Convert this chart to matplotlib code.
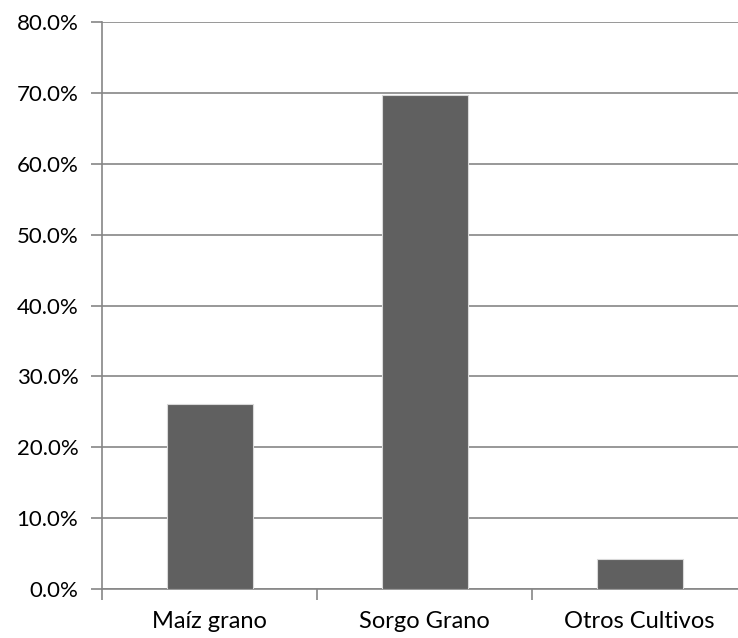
import matplotlib
matplotlib.use("Agg")
import matplotlib.pyplot as plt
from matplotlib.ticker import FuncFormatter, MultipleLocator

categories = ["Maíz grano", "Sorgo Grano", "Otros Cultivos"]
values = [26.1, 69.7, 4.3]

plt.rcParams['font.family'] = ['Lato', 'DejaVu Sans']

fig = plt.figure(figsize=(7.38, 6.38), dpi=100)
ax = fig.add_axes([102/738, 49/638, (747-102)/738, (589-22)/638])

x = list(range(len(categories)))
ax.bar(x, values, width=0.4, color="#606060", edgecolor="#d9d9d9", linewidth=0.8, zorder=3)

ax.set_xlim(-0.5, 2.5)
ax.set_ylim(0, 80)
ax.yaxis.set_major_locator(MultipleLocator(10))
ax.yaxis.set_major_formatter(FuncFormatter(lambda v, p: f"{v:.1f}%"))
ax.grid(axis="y", color="#868686", linewidth=1.2, zorder=0)

ax.set_xticks([-0.5, 0.5, 1.5, 2.5])
ax.set_xticklabels([])
ax.set_xticks(x, minor=True)
ax.set_xticklabels(categories, minor=True)
ax.tick_params(axis="x", which="major", length=8, color="#868686", width=1.2)
ax.tick_params(axis="x", which="minor", length=0, pad=16, labelsize=17)
ax.tick_params(axis="y", length=8, color="#868686", width=1.2, pad=9, labelsize=16)

for s in ["top", "right"]:
    ax.spines[s].set_visible(False)
for s in ["left", "bottom"]:
    ax.spines[s].set_color("#868686")
    ax.spines[s].set_linewidth(1.2)

fig.savefig("out.png", dpi=100)
